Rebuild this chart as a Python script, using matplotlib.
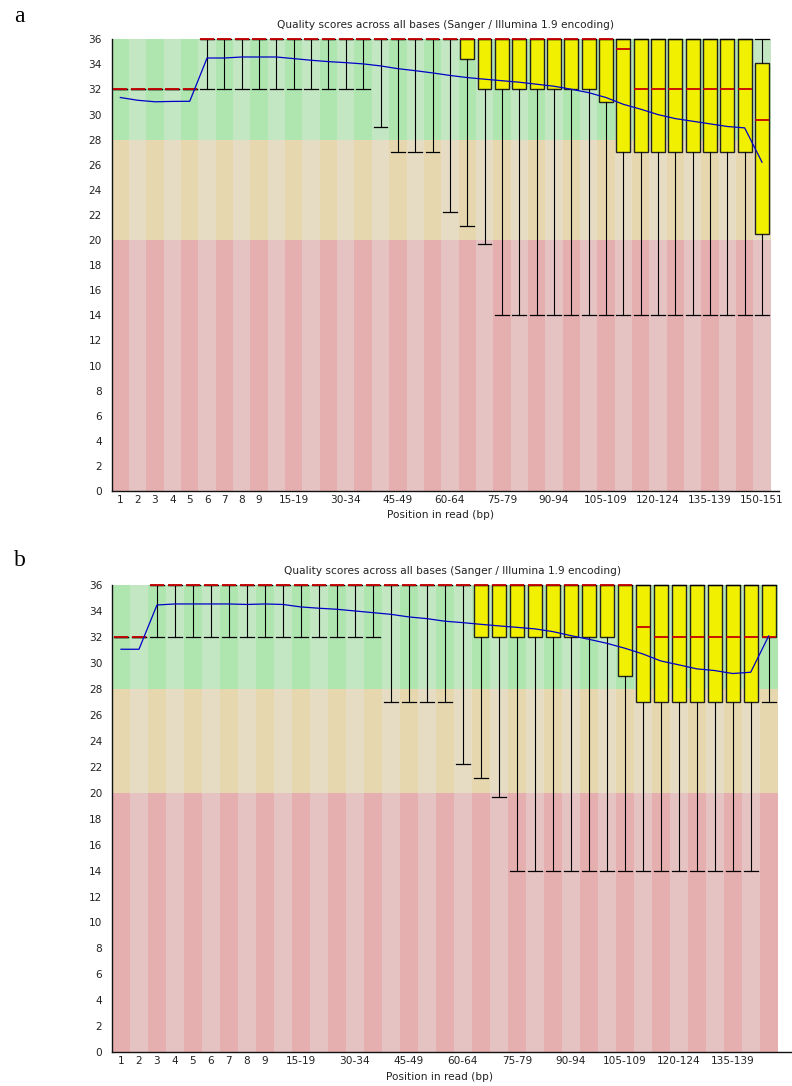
import matplotlib
matplotlib.use("Agg")
import matplotlib.pyplot as plt

# ---------------- data ----------------
cats_a = ['1', '2', '3', '4', '5', '6', '7', '8', '9',
          '10-14', '15-19', '20-24', '25-29', '30-34', '35-39', '40-44', '45-49',
          '50-54', '55-59', '60-64', '65-69', '70-74', '75-79', '80-84', '85-89',
          '90-94', '95-99', '100-104', '105-109', '110-114', '115-119', '120-124',
          '125-129', '130-134', '135-139', '140-144', '145-149', '150-151']
cats_b = cats_a[:-1]

shown_a = ['1', '2', '3', '4', '5', '6', '7', '8', '9', '15-19', '30-34', '45-49', '60-64',
           '75-79', '90-94', '105-109', '120-124', '135-139', '150-151']
shown_b = ['1', '2', '3', '4', '5', '6', '7', '8', '9', '15-19', '30-34', '45-49', '60-64',
           '75-79', '90-94', '105-109', '120-124', '135-139']

# panel a (10th pct, Q1, median, Q3, 90th pct, mean)
low_a = [32, 32, 32, 32, 32, 32, 32, 32, 32, 32, 32, 32, 32, 32, 32, 29, 27, 27, 27, 22.2,
         21.1, 19.7, 14, 14, 14, 14, 14, 14, 14, 14, 14, 14, 14, 14, 14, 14, 14, 14]
q1_a = [32, 32, 32, 32, 32, 36, 36, 36, 36, 36, 36, 36, 36, 36, 36, 36, 36, 36, 36, 36,
        34.4, 32, 32, 32, 32, 32, 32, 32, 31, 27, 27, 27, 27, 27, 27, 27, 27, 20.5]
med_a = [32, 32, 32, 32, 32, 36, 36, 36, 36, 36, 36, 36, 36, 36, 36, 36, 36, 36, 36, 36,
         36, 36, 36, 36, 36, 36, 36, 36, 36, 35.2, 32, 32, 32, 32, 32, 32, 32, 29.6]
q3_a = [32, 32, 32, 32, 32, 36, 36, 36, 36, 36, 36, 36, 36, 36, 36, 36, 36, 36, 36, 36,
        36, 36, 36, 36, 36, 36, 36, 36, 36, 36, 36, 36, 36, 36, 36, 36, 36, 34.1]
high_a = [32, 32, 32, 32, 32, 36, 36, 36, 36, 36, 36, 36, 36, 36, 36, 36, 36, 36, 36, 36,
          36, 36, 36, 36, 36, 36, 36, 36, 36, 36, 36, 36, 36, 36, 36, 36, 36, 36]
mean_a = [31.36, 31.14, 31.02, 31.05, 31.06, 34.51, 34.51, 34.59, 34.59, 34.59, 34.46,
          34.33, 34.22, 34.14, 34.04, 33.88, 33.66, 33.50, 33.32, 33.12, 32.95, 32.82,
          32.70, 32.58, 32.42, 32.26, 32.02, 31.75, 31.36, 30.82, 30.43, 30.00, 29.68,
          29.47, 29.26, 29.05, 28.94, 26.20]

# panel b
low_b = [32, 32, 32, 32, 32, 32, 32, 32, 32, 32, 32, 32, 32, 32, 32, 27, 27, 27, 27, 22.2,
         21.1, 19.7, 14, 14, 14, 14, 14, 14, 14, 14, 14, 14, 14, 14, 14, 14, 27]
q1_b = [32, 32, 36, 36, 36, 36, 36, 36, 36, 36, 36, 36, 36, 36, 36, 36, 36, 36, 36, 36,
        32, 32, 32, 32, 32, 32, 32, 32, 29, 27, 27, 27, 27, 27, 27, 27, 32]
med_b = [32, 32, 36, 36, 36, 36, 36, 36, 36, 36, 36, 36, 36, 36, 36, 36, 36, 36, 36, 36,
         36, 36, 36, 36, 36, 36, 36, 36, 36, 32.75, 32, 32, 32, 32, 32, 32, 32]
q3_b = [32, 32, 36, 36, 36, 36, 36, 36, 36, 36, 36, 36, 36, 36, 36, 36, 36, 36, 36, 36,
        36, 36, 36, 36, 36, 36, 36, 36, 36, 36, 36, 36, 36, 36, 36, 36, 36]
high_b = [32, 32, 36, 36, 36, 36, 36, 36, 36, 36, 36, 36, 36, 36, 36, 36, 36, 36, 36, 36,
          36, 36, 36, 36, 36, 36, 36, 36, 36, 36, 36, 36, 36, 36, 36, 36, 36]
mean_b = [31.05, 31.05, 34.46, 34.54, 34.54, 34.54, 34.54, 34.50, 34.54, 34.50, 34.31,
          34.21, 34.13, 34.00, 33.87, 33.74, 33.54, 33.41, 33.21, 33.10, 32.97, 32.85,
          32.74, 32.62, 32.41, 32.10, 31.82, 31.51, 31.13, 30.69, 30.15, 29.85, 29.54,
          29.41, 29.18, 29.28, 32.08]

# quality bands (bottom, top, even colour, odd colour)
bands = [(0, 20, (230/255, 175/255, 175/255), (230/255, 195/255, 195/255)),
         (20, 28, (230/255, 215/255, 175/255), (230/255, 220/255, 195/255)),
         (28, 36, (175/255, 230/255, 175/255), (195/255, 230/255, 195/255))]

TITLE = "Quality scores across all bases (Sanger / Illumina 1.9 encoding)"
XLABEL = "Position in read (bp)"

W, H = 792, 1086
fig = plt.figure(figsize=(W / 100, H / 100), dpi=100)

def px_axes(left, right, top, bottom):
    return fig.add_axes([left / W, 1 - bottom / H, (right - left) / W, (bottom - top) / H])

def draw_panel(ax, cats, low, q1, med, q3, high, mean, shown, xmax, xlab_x):
    n = len(cats)
    pos = list(range(n))
    # stripes
    for b0, b1, c_even, c_odd in bands:
        cols = [c_even if i % 2 == 0 else c_odd for i in pos]
        ax.bar(pos, [b1 - b0] * n, bottom=b0, width=1.0, color=cols,
               linewidth=0, antialiased=False, zorder=0)
    stats = []
    for i in pos:
        stats.append(dict(whislo=low[i], q1=q1[i], med=med[i], q3=q3[i],
                          whishi=high[i], fliers=[]))
    art = ax.bxp(stats, positions=pos, widths=0.8, capwidths=0.8, patch_artist=True,
                 showfliers=False, manage_ticks=False,
                 boxprops=dict(facecolor=(240/255, 240/255, 0), edgecolor='#222222',
                               linewidth=1.0, zorder=2),
                 whiskerprops=dict(color='black', linewidth=0.8, zorder=2),
                 capprops=dict(color='black', linewidth=0.9, zorder=2),
                 medianprops=dict(color=(200/255, 0, 0), linewidth=1.3, zorder=4))
    for key in ('boxes', 'caps', 'medians', 'whiskers'):
        for a in art[key]:
            a.set_clip_on(False)
    ax.plot(pos, mean, color=(0, 0, 200/255), linewidth=0.9, zorder=5)
    ax.set_xlim(-0.5, xmax)
    ax.set_ylim(0, 36)
    ax.set_yticks(range(0, 37, 2))
    ax.set_xticks([cats.index(s) for s in shown])
    ax.set_xticklabels(shown)
    ax.tick_params(length=0, labelsize=7.6, colors='#222222')
    ax.tick_params(axis='y', pad=7)
    ax.tick_params(axis='x', pad=3)
    for s in ('top', 'right'):
        ax.spines[s].set_visible(False)
    for s in ('left', 'bottom'):
        ax.spines[s].set_color('#111111')
        ax.spines[s].set_linewidth(1.0)
    ax.set_title(TITLE, fontsize=7.6, color='#222222', pad=8)
    ax.set_xlabel(XLABEL, fontsize=7.6, color='#222222')
    ax.xaxis.set_label_coords(xlab_x, -0.043)

ax_a = px_axes(111.7, 779, 39.3, 491)
draw_panel(ax_a, cats_a, low_a, q1_a, med_a, q3_a, high_a, mean_a, shown_a,
           -0.5 + (779 - 111.7) / ((770.7 - 111.7) / 38), 0.492)

ax_b = px_axes(112, 792, 585, 1052.3)
draw_panel(ax_b, cats_b, low_b, q1_b, med_b, q3_b, high_b, mean_b, shown_b,
           -0.5 + (792 - 112) / ((777.7 - 112) / 37), 0.482)

fig.text(14 / W, 1 - 17 / H, "a", fontsize=17, family="Liberation Serif", va='center', ha='left')
fig.text(14 / W, 1 - 561 / H, "b", fontsize=17, family="Liberation Serif", va='center', ha='left')

fig.savefig("out.png", dpi=100)
